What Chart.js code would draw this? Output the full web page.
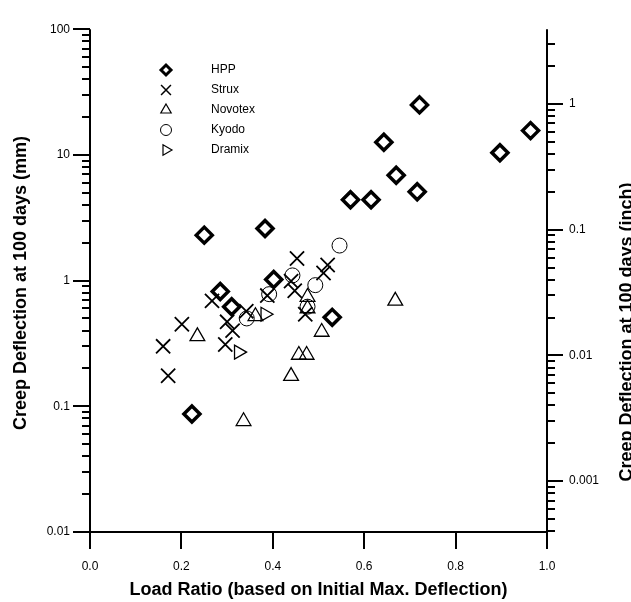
<!DOCTYPE html>
<html>
<head>
<meta charset="utf-8">
<script src="https://cdn.jsdelivr.net/npm/chart.js@4.4.0/dist/chart.umd.min.js"></script>
<style>
  html, body { margin: 0; padding: 0; background: #fff; }
</style>
</head>
<body>
<canvas id="creepChart" width="631" height="602"></canvas>
<script>
// load ratio (x) and creep deflection at 100 days in mm (y)
const hppLoad  = [0.223, 0.250, 0.285, 0.310, 0.383, 0.402, 0.530, 0.570, 0.615, 0.643, 0.670, 0.716, 0.721, 0.897, 0.964];
const hppCreep = [0.087, 2.3, 0.82, 0.62, 2.6, 1.02, 0.51, 4.4, 4.4, 12.6, 6.9, 5.1, 25, 10.4, 15.6];

const struxLoad  = [0.160, 0.171, 0.201, 0.267, 0.296, 0.300, 0.312, 0.342, 0.388, 0.440, 0.448, 0.453, 0.471, 0.511, 0.520];
const struxCreep = [0.30, 0.175, 0.45, 0.69, 0.31, 0.47, 0.40, 0.57, 0.76, 0.99, 0.83, 1.5, 0.54, 1.15, 1.33];

const novotexLoad  = [0.235, 0.336, 0.362, 0.440, 0.457, 0.474, 0.476, 0.476, 0.507, 0.668];
const novotexCreep = [0.36, 0.076, 0.52, 0.174, 0.256, 0.256, 0.60, 0.74, 0.39, 0.69];

const kyodoLoad  = [0.343, 0.392, 0.443, 0.476, 0.493, 0.546];
const kyodoCreep = [0.50, 0.78, 1.10, 0.62, 0.92, 1.9];

const dramixLoad  = [0.325, 0.383];
const dramixCreep = [0.27, 0.54];

const seriesNames = ["HPP", "Strux", "Novotex", "Kyodo", "Dramix"];

const xTicks = [0, 0.2, 0.4, 0.6, 0.8, 1.0];
const mmTicks = [0.01, 0.1, 1, 10, 100];
const inchTicks = [0.001, 0.01, 0.1, 1];
const minorSteps = [2, 3, 4, 5, 6, 7, 8, 9];
const MM_PER_INCH = 25.4;

const FONT = '"Liberation Sans", Arial, sans-serif';

function pts(xs, ys) {
    return xs.map((v, i) => ({ x: v, y: ys[i] }));
}

// marker look for each series (data size, legend size)
const markers = [
    { pointStyle: "rectRot",  rotation: 0,  radius: 8,   borderWidth: 3.5, legendRadius: 5,   legendWidth: 3 },
    { pointStyle: "crossRot", rotation: 0,  radius: 10,  borderWidth: 1.8, legendRadius: 7,   legendWidth: 1.5 },
    { pointStyle: "triangle", rotation: 0,  radius: 8.5, borderWidth: 1.3, legendRadius: 6,   legendWidth: 1.2 },
    { pointStyle: "circle",   rotation: 0,  radius: 7.5, borderWidth: 1,   legendRadius: 5.5, legendWidth: 1 },
    { pointStyle: "triangle", rotation: 90, radius: 8,   borderWidth: 1.3, legendRadius: 6,   legendWidth: 1.2 }
];

const allData = [
    pts(hppLoad, hppCreep),
    pts(struxLoad, struxCreep),
    pts(novotexLoad, novotexCreep),
    pts(kyodoLoad, kyodoCreep),
    pts(dramixLoad, dramixCreep)
];

const datasets = allData.map((d, i) => ({
    label: seriesNames[i],
    data: d,
    pointStyle: markers[i].pointStyle,
    rotation: markers[i].rotation,
    pointRadius: markers[i].radius,
    pointBorderWidth: markers[i].borderWidth,
    borderColor: "#000",
    backgroundColor: "rgba(0,0,0,0)",
    yAxisID: "y"
}));

// axis lines, ticks, titles and legend in the old plotting-program style
const grapherAxes = {
    id: "grapherAxes",
    afterDraw(chart) {
        const { ctx, chartArea: a, scales } = chart;
        const x = scales.x, y = scales.y, y2 = scales.y2;
        ctx.save();
        ctx.strokeStyle = "#000";
        ctx.lineWidth = 2;
        ctx.lineCap = "butt";
        ctx.beginPath();
        ctx.moveTo(a.left, a.top); ctx.lineTo(a.left, a.bottom);
        ctx.moveTo(a.right, a.top); ctx.lineTo(a.right, a.bottom);
        ctx.moveTo(a.left - 1, a.bottom); ctx.lineTo(a.right + 1, a.bottom);

        xTicks.forEach(v => {
            const px = Math.round(x.getPixelForValue(v));
            ctx.moveTo(px, a.bottom); ctx.lineTo(px, a.bottom + 17);
        });

        mmTicks.forEach((v, i) => {
            const py = Math.round(y.getPixelForValue(v));
            ctx.moveTo(a.left, py); ctx.lineTo(a.left - 17, py);
            if (i < mmTicks.length - 1) {
                minorSteps.forEach(m => {
                    const pm = Math.round(y.getPixelForValue(v * m));
                    ctx.moveTo(a.left, pm); ctx.lineTo(a.left - 8, pm);
                });
            }
        });

        const lo = y2.min, hi = y2.max;
        [0.0001, 0.001, 0.01, 0.1, 1].forEach(dec => {
            if (inchTicks.includes(dec)) {
                const py = Math.round(y2.getPixelForValue(dec));
                ctx.moveTo(a.right, py); ctx.lineTo(a.right + 16, py);
            }
            minorSteps.forEach(m => {
                const v = dec * m;
                if (v < lo || v > hi) return;
                const pm = Math.round(y2.getPixelForValue(v));
                ctx.moveTo(a.right, pm); ctx.lineTo(a.right + 8, pm);
            });
        });
        ctx.stroke();

        // titles
        ctx.fillStyle = "#000";
        ctx.font = "bold 18px " + FONT;
        ctx.textAlign = "center";
        ctx.textBaseline = "middle";
        ctx.fillText("Load Ratio (based on Initial Max. Deflection)", (a.left + a.right) / 2, 590);

        ctx.save();
        ctx.translate(21, 283);
        ctx.rotate(-Math.PI / 2);
        ctx.fillText("Creep Deflection at 100 days (mm)", 0, 0);
        ctx.restore();

        ctx.save();
        ctx.translate(627, 332);
        ctx.rotate(-Math.PI / 2);
        ctx.fillText("Creep Deflection at 100 days (inch)", 0, 0);
        ctx.restore();

        // legend
        ctx.font = "12px " + FONT;
        ctx.textAlign = "left";
        seriesNames.forEach((name, i) => {
            const ly = 70 + i * 20;
            const mk = markers[i];
            ctx.strokeStyle = "#000";
            ctx.fillStyle = "rgba(0,0,0,0)";
            ctx.lineWidth = mk.legendWidth;
            Chart.helpers.drawPoint(ctx, {
                pointStyle: mk.pointStyle,
                rotation: mk.rotation,
                radius: mk.legendRadius,
                borderWidth: mk.legendWidth
            }, 166, ly);
            ctx.fillStyle = "#000";
            ctx.fillText(name, 211, ly);
        });
        ctx.restore();
    }
};

const ctx = document.getElementById("creepChart").getContext("2d");
const creepChart = new Chart(ctx, {
    type: "scatter",
    data: { datasets: datasets },
    plugins: [grapherAxes],
    options: {
        responsive: false,
        animation: false,
        devicePixelRatio: 1,
        events: [],
        layout: { padding: { top: 21, left: 0, right: 0, bottom: 0 } },
        plugins: {
            legend: { display: false },
            tooltip: { enabled: false }
        },
        scales: {
            x: {
                type: "linear",
                min: 0,
                max: 1,
                grid: { display: false, drawTicks: false },
                border: { display: false },
                afterBuildTicks: s => { s.ticks = xTicks.map(v => ({ value: v })); },
                afterFit: s => { s.height = 70; },
                ticks: {
                    padding: 27,
                    color: "#000",
                    font: { family: FONT, size: 12 },
                    callback: v => Number(v).toFixed(1)
                }
            },
            y: {
                type: "logarithmic",
                position: "left",
                min: 0.01,
                max: 100,
                grid: { display: false, drawTicks: false },
                border: { display: false },
                afterBuildTicks: s => { s.ticks = mmTicks.map(v => ({ value: v })); },
                afterFit: s => { s.width = 90; },
                ticks: {
                    padding: 20,
                    color: "#000",
                    font: { family: FONT, size: 12 },
                    callback: v => String(v)
                }
            },
            y2: {
                type: "logarithmic",
                position: "right",
                min: 0.01 / MM_PER_INCH,
                max: 100 / MM_PER_INCH,
                grid: { display: false, drawTicks: false },
                border: { display: false },
                afterBuildTicks: s => { s.ticks = inchTicks.map(v => ({ value: v })); },
                afterFit: s => { s.width = 84; },
                ticks: {
                    padding: 22,
                    color: "#000",
                    font: { family: FONT, size: 12 },
                    callback: v => String(v)
                }
            }
        }
    }
});
</script>
</body>
</html>
